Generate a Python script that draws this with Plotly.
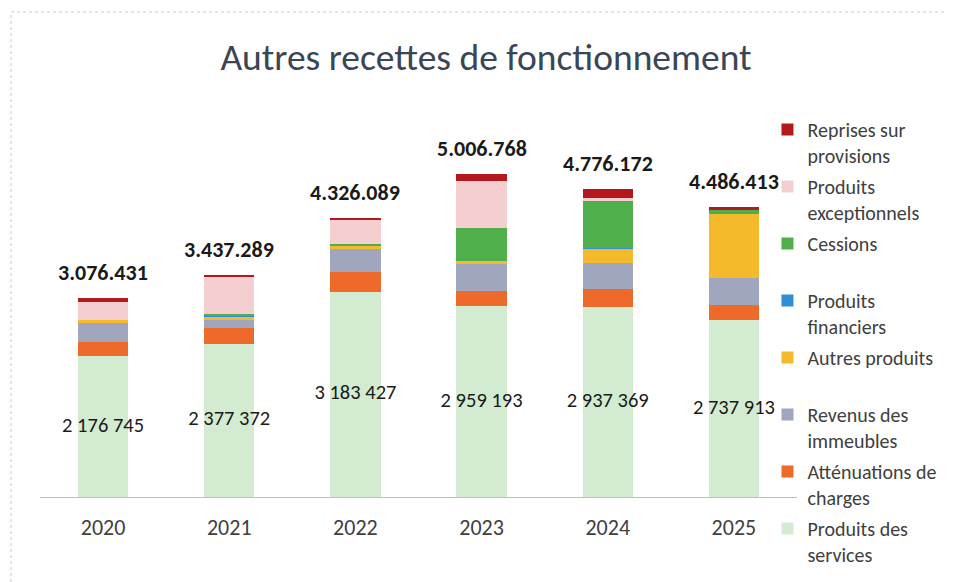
import plotly.graph_objects as go

years = ["2020", "2021", "2022", "2023", "2024", "2025"]

services = [2176745, 2377372, 3183427, 2959193, 2937369, 2737913]
attenuations = [221000, 241000, 296000, 229000, 278000, 244000]
revenus_immeubles = [296000, 119000, 370000, 417000, 405000, 405000]
autres_produits = [50000, 62000, 50000, 51000, 236803, 1000500]
produits_financiers = [2000, 1000, 1000, 1000, 1000, 1000]
cessions = [0, 42000, 25000, 510000, 720000, 72000]
exceptionnels = [275686, 568917, 374662, 726575, 57000, 0]
reprises = [55000, 26000, 26000, 113000, 141000, 26000]

totals = [3076431, 3437289, 4326089, 5006768, 4776172, 4486413]

series = [
    ("Produits des<br>services", services, "#D3ECD1"),
    ("Atténuations de<br>charges", attenuations, "#EE6A2B"),
    ("Revenus des<br>immeubles", revenus_immeubles, "#9FA6BE"),
    ("Autres produits<br>&nbsp;", autres_produits, "#F5BA2C"),
    ("Produits<br>financiers", produits_financiers, "#2E8FD6"),
    ("Cessions<br>&nbsp;", cessions, "#4FB04B"),
    ("Produits<br>exceptionnels", exceptionnels, "#F5CFCF"),
    ("Reprises sur<br>provisions", reprises, "#B3191C"),
]

FONT = "Carlito, Lato, sans-serif"

fig = go.Figure()
n = len(series)
for i, (name, vals, col) in enumerate(series):
    fig.add_trace(go.Bar(
        x=years, y=vals, name=name, marker=dict(color=col, line=dict(width=0)),
        legendgroup="g%d" % i, legendrank=100 + (n - i), hoverinfo="y+name",
    ))

def fmt_space(v):
    return f"{v:,}".replace(",", " ")

def fmt_dot(v):
    return f"{v:,}".replace(",", ".")

fig.add_trace(go.Scatter(
    x=years, y=[v / 2 for v in services], mode="text",
    text=[fmt_space(v) for v in services], textposition="middle center",
    textfont=dict(size=20.5, color="#1a1a1a", family=FONT),
    showlegend=False, hoverinfo="skip",
))

# total labels above each stack (x given as category index)
for idx, t in enumerate(totals):
    fig.add_annotation(
        x=idx, y=t, xref="x", yref="y", text="<b>" + fmt_dot(t) + "</b>", showarrow=False,
        xanchor="center", yanchor="bottom", yshift=10,
        font=dict(size=22, color="#1a1a1a", family=FONT),
    )

# chart border (right/bottom edges fall outside the visible page, as in the reference)
fig.add_shape(type="rect", xref="paper", yref="paper",
              x0=-0.0383, x1=1.2153, y0=-0.247, y1=1.2217,
              line=dict(color="#C8C8C8", width=1, dash="dot"), layer="below")

fig.update_layout(
    width=945, height=574,
    barmode="stack", bargap=0.6,
    paper_bgcolor="white", plot_bgcolor="white",
    margin=dict(l=32, r=156, t=92, b=85, autoexpand=False),
    title=dict(text="Autres recettes de fonctionnement", x=0.5058, xanchor="center",
               y=0.9146, yanchor="middle",
               font=dict(size=37.5, color="#3A4556", family=FONT)),
    font=dict(family=FONT, color="#404040"),
    showlegend=True,
    legend=dict(x=0.961, xanchor="left", y=0.975, yanchor="top",
                traceorder="grouped", tracegroupgap=2, valign="top",
                maxheight=480,
                font=dict(size=20, color="#404040", family=FONT),
                bgcolor="rgba(0,0,0,0)"),
    xaxis=dict(type="category", categoryorder="array", categoryarray=years,
               range=[-0.5, 5.5], autorange=False,
               showline=True, linecolor="#BFBFBF", linewidth=1, ticks="",
               tickfont=dict(size=22, color="#404040", family=FONT),
               ticklabelstandoff=11, showgrid=False),
    yaxis=dict(range=[0, 6.15e6], visible=False, showgrid=False),
)

fig.write_html("out.html")
